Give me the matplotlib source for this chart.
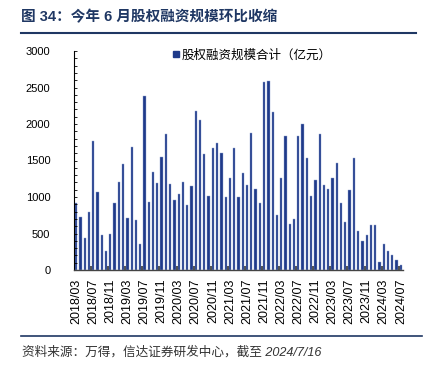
import numpy as np
import matplotlib
matplotlib.use('Agg')
from matplotlib import pyplot as plt
from matplotlib.lines import Line2D

plt.rcParams['font.family'] = ['Liberation Sans', 'Noto Sans CJK SC', 'DejaVu Sans']

# monthly equity financing, 2018/03 .. 2024/07 (100m yuan)
START_YEAR, START_MONTH = 2018, 3
VALUES = [914, 723, 436, 791, 1763, 1064, 477, 259, 495, 914,
          1209, 1455, 709, 1682, 682, 355, 2377, 932, 1341, 1191,
          1545, 1868, 1182, 964, 1045, 1209, 886, 1155, 2182, 2055,
          1591, 1018, 1668, 1741, 1600, 1005, 1259, 1668, 1000, 1327,
          1159, 1877, 1109, 918, 2577, 2591, 2168, 759, 1259, 1836,
          632, 695, 1841, 2005, 1532, 1014, 1227, 1859, 1164, 1105,
          1264, 1468, 923, 659, 1100, 1541, 541, 391, 473, 623,
          623, 105, 355, 255, 205, 132, 73]

LEGEND_LABEL = '股权融资规模合计（亿元）'
TITLE = '图 34：今年 6 月股权融资规模环比收缩'
SOURCE = '资料来源：万得，信达证券研发中心，截至 2024/7/16'

NAVY = '#1f3a8a'
DARK = '#1f3763'

labels = []
y, m = START_YEAR, START_MONTH
for _ in VALUES:
    labels.append('%d/%02d' % (y, m))
    m += 1
    if m > 12:
        m = 1
        y += 1

W, H = 427, 370
fig = plt.figure(figsize=(W / 100, H / 100), dpi=100)
ax = fig.add_axes([74 / W, 1 - 270 / H, (403 - 74) / W, (270 - 51) / H])

x = np.arange(len(VALUES))
ax.bar(x, VALUES, width=0.55, color=NAVY, edgecolor='#8fa3cf', linewidth=0.3,
       label=LEGEND_LABEL)

ax.set_xlim(-0.5, len(VALUES) - 0.5)
ax.set_ylim(0, 3000)

ax.set_xticks(x[::4])
ax.set_xticklabels(labels[::4], rotation=90, fontsize=9)
ax.set_xticks(np.arange(3.5, len(VALUES), 4), minor=True)
ax.tick_params(axis='x', which='major', length=0, pad=6)
ax.tick_params(axis='x', which='minor', direction='in', length=3, width=1.5, color='#555555')

ax.set_yticks(np.arange(0, 3001, 500))
ax.set_yticks(np.arange(0, 3001, 100), minor=True)
ax.tick_params(axis='y', which='both', direction='in', length=2.5, width=0.6, pad=17, labelsize=8)

for s in ['top', 'right']:
    ax.spines[s].set_visible(False)
ax.spines['left'].set_linewidth(0.8)
ax.spines['bottom'].set_linewidth(1.0)
ax.spines['bottom'].set_color('#444444')

fig.legend(handles=[Line2D([], [], marker='s', linestyle='none', color=NAVY, markersize=4)],
           labels=[LEGEND_LABEL], loc='center left',
           bbox_to_anchor=(172 / W, 1 - 55 / H), frameon=False,
           handlelength=0.6, handletextpad=0.2, borderpad=0, borderaxespad=0,
           prop={'family': 'Noto Sans CJK SC', 'size': 9})

# title, rules and source
fig.text(21 / W, 1 - 17 / H, TITLE, fontsize=10.5, fontweight='bold', color=DARK,
         va='center', ha='left')
fig.add_artist(Line2D([21 / W, 416 / W], [1 - 33 / H, 1 - 33 / H], color=DARK, lw=1.5))
fig.add_artist(Line2D([21 / W, 422 / W], [1 - 336 / H, 1 - 336 / H], color=DARK, lw=1.2))
fig.text(22 / W, 1 - 352 / H, SOURCE, fontsize=9.1, style='italic', color='#333333',
         va='center', ha='left')

fig.savefig('out.png', dpi=100)
plt.close()
